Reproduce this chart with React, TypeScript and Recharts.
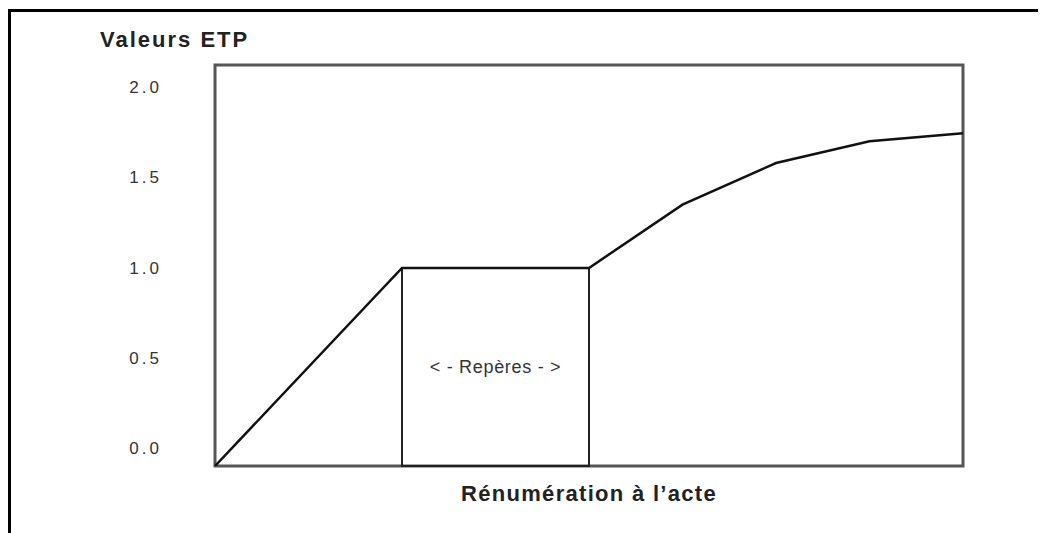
import { LineChart, Line, XAxis, YAxis, ReferenceArea } from "recharts";

// x positions of the break points (arbitrary units) and ETP values
const ACTES = [0, 2, 4, 5, 6, 7, 8];
const ETP = [0, 1, 1, 1.32, 1.53, 1.64, 1.68];
const Y_TICKS = [0, 0.5, 1, 1.5, 2];

const data = ACTES.map((x, i) => ({ x, etp: ETP[i] }));

const FONT = "'Liberation Sans', Arial, sans-serif";

const App = () => {
  return (
    <div
      style={{
        position: "relative",
        marginTop: 1,
        width: 1035,
        height: 521,
        borderTop: "3px solid #000",
        borderLeft: "3px solid #000",
        fontFamily: FONT,
      }}
    >
      <div
        style={{
          position: "absolute",
          left: 89,
          top: 16,
          fontSize: 22,
          fontWeight: 700,
          letterSpacing: 2,
          lineHeight: "24px",
          color: "#222",
        }}
      >
        Valeurs ETP
      </div>
      <LineChart width={1035} height={520} data={data} margin={{ top: 53, right: 83, bottom: 0, left: 54 }}>
        <XAxis
          dataKey="x"
          type="number"
          domain={[0, 8]}
          ticks={ACTES}
          tick={false}
          tickLine={false}
          axisLine={false}
          height={66}
          label={{
            value: "Rénumération à l’acte",
            position: "insideBottom",
            offset: 31,
            fill: "#222",
            fontSize: 22,
            fontWeight: 700,
            letterSpacing: 1.3,
            fontFamily: FONT,
          }}
        />
        <YAxis
          yAxisId="labels"
          type="number"
          domain={[-0.0979, 2.12]}
          allowDataOverflow
          ticks={Y_TICKS}
          tickFormatter={(v: number) => v.toFixed(1)}
          width={150}
          axisLine={false}
          tickLine={false}
          tickSize={6}
          tickMargin={47}
          tick={{ fill: "#333", fontSize: 17, letterSpacing: 3, fontFamily: FONT }}
        />
        <YAxis yAxisId="data" hide width={0} type="number" domain={[0, 2.025]} allowDataOverflow />
        <ReferenceArea
          yAxisId="data"
          x1={0}
          x2={8}
          y1={0}
          y2={2.025}
          fill="none"
          stroke="#555"
          strokeWidth={3}
          ifOverflow="visible"
        />
        <ReferenceArea
          yAxisId="data"
          x1={2}
          x2={4}
          y1={0}
          y2={1}
          fill="none"
          fillOpacity={0}
          stroke="#222"
          strokeWidth={2}
          label={{
            value: "< - Repères - >",
            position: "center",
            fill: "#333",
            fontSize: 18,
            letterSpacing: 0.7,
            fontFamily: FONT,
          }}
        />
        <Line
          yAxisId="data"
          type="linear"
          dataKey="etp"
          stroke="#111"
          strokeWidth={2.5}
          dot={false}
          isAnimationActive={false}
        />
      </LineChart>
    </div>
  );
};

export default App;
